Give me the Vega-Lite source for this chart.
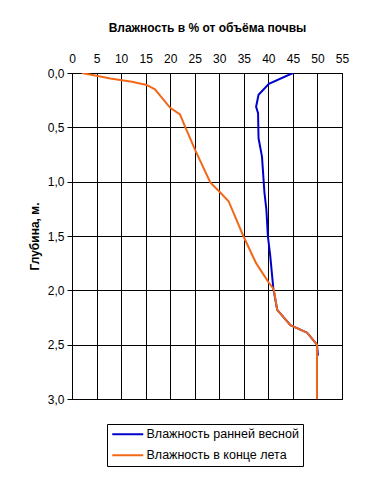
{
  "$schema": "https://vega.github.io/schema/vega-lite/v6.json",
  "width": 270,
  "height": 326,
  "autosize": {"type": "none"},
  "padding": {"left": 72, "top": 73, "right": 26, "bottom": 79},
  "background": "white",
  "config": {
    "font": "Liberation Sans",
    "view": {"stroke": "black", "strokeWidth": 1},
    "axis": {"labelFont": "Liberation Sans", "labelFontSize": 12, "labelColor": "black", "titleFont": "Liberation Sans", "titleFontSize": 12, "titleFontWeight": "bold", "titleColor": "black", "gridColor": "black", "gridOpacity": 1, "gridWidth": 1, "domainColor": "black", "tickColor": "black"}
  },
  "data": {
    "values": [
      {"series": "Влажность ранней весной", "o": 1, "depth": 0.0, "w": 45.0},
      {"series": "Влажность ранней весной", "o": 2, "depth": 0.1, "w": 40.1},
      {"series": "Влажность ранней весной", "o": 3, "depth": 0.2, "w": 38.0},
      {"series": "Влажность ранней весной", "o": 4, "depth": 0.31, "w": 37.5},
      {"series": "Влажность ранней весной", "o": 5, "depth": 0.37, "w": 37.9},
      {"series": "Влажность ранней весной", "o": 6, "depth": 0.6, "w": 38.0},
      {"series": "Влажность ранней весной", "o": 7, "depth": 0.77, "w": 38.7},
      {"series": "Влажность ранней весной", "o": 8, "depth": 1.1, "w": 39.2},
      {"series": "Влажность ранней весной", "o": 9, "depth": 1.26, "w": 39.6},
      {"series": "Влажность ранней весной", "o": 10, "depth": 1.5, "w": 39.9},
      {"series": "Влажность ранней весной", "o": 11, "depth": 1.69, "w": 40.4},
      {"series": "Влажность ранней весной", "o": 12, "depth": 1.98, "w": 41.0},
      {"series": "Влажность ранней весной", "o": 13, "depth": 2.18, "w": 41.8},
      {"series": "Влажность ранней весной", "o": 14, "depth": 2.32, "w": 44.5},
      {"series": "Влажность ранней весной", "o": 15, "depth": 2.39, "w": 47.9},
      {"series": "Влажность ранней весной", "o": 16, "depth": 2.5, "w": 49.9},
      {"series": "Влажность ранней весной", "o": 17, "depth": 2.6, "w": 50.1},
      {"series": "Влажность в конце лета", "o": 1, "depth": 0.0, "w": 2.0},
      {"series": "Влажность в конце лета", "o": 2, "depth": 0.025, "w": 5.0},
      {"series": "Влажность в конце лета", "o": 3, "depth": 0.05, "w": 7.8},
      {"series": "Влажность в конце лета", "o": 4, "depth": 0.08, "w": 12.2},
      {"series": "Влажность в конце лета", "o": 5, "depth": 0.11, "w": 15.2},
      {"series": "Влажность в конце лета", "o": 6, "depth": 0.15, "w": 16.9},
      {"series": "Влажность в конце лета", "o": 7, "depth": 0.32, "w": 20.0},
      {"series": "Влажность в конце лета", "o": 8, "depth": 0.38, "w": 22.0},
      {"series": "Влажность в конце лета", "o": 9, "depth": 0.48, "w": 22.9},
      {"series": "Влажность в конце лета", "o": 10, "depth": 0.71, "w": 25.1},
      {"series": "Влажность в конце лета", "o": 11, "depth": 1.01, "w": 28.2},
      {"series": "Влажность в конце лета", "o": 12, "depth": 1.1, "w": 30.2},
      {"series": "Влажность в конце лета", "o": 13, "depth": 1.18, "w": 31.9},
      {"series": "Влажность в конце лета", "o": 14, "depth": 1.5, "w": 34.9},
      {"series": "Влажность в конце лета", "o": 15, "depth": 1.75, "w": 37.5},
      {"series": "Влажность в конце лета", "o": 16, "depth": 1.93, "w": 40.1},
      {"series": "Влажность в конце лета", "o": 17, "depth": 1.99, "w": 41.1},
      {"series": "Влажность в конце лета", "o": 18, "depth": 2.18, "w": 41.8},
      {"series": "Влажность в конце лета", "o": 19, "depth": 2.32, "w": 44.5},
      {"series": "Влажность в конце лета", "o": 20, "depth": 2.39, "w": 47.9},
      {"series": "Влажность в конце лета", "o": 21, "depth": 2.5, "w": 49.9},
      {"series": "Влажность в конце лета", "o": 22, "depth": 3.0, "w": 49.9}
    ]
  },
  "mark": {"type": "line", "strokeWidth": 2, "clip": true},
  "encoding": {
    "x": {
      "field": "w", "type": "quantitative",
      "scale": {"domain": [0, 55], "nice": false, "zero": false},
      "axis": {"orient": "top", "values": [0,5,10,15,20,25,30,35,40,45,50,55], "ticks": false, "labelPadding": 8, "title": "Влажность в % от объёма почвы", "titlePadding": 18, "grid": true, "domain": false, "labelFlush": false}
    },
    "y": {
      "field": "depth", "type": "quantitative",
      "scale": {"domain": [0, 3], "reverse": true, "nice": false, "zero": false},
      "axis": {"values": [0, 0.5, 1, 1.5, 2, 2.5, 3], "labelExpr": "replace(format(datum.value, '.1f'), '.', ',')", "tickSize": 5, "labelPadding": 3, "title": "Глубина, м.", "titlePadding": 6, "grid": true, "domain": true, "labelFlush": false}
    },
    "order": {"field": "o", "type": "quantitative"},
    "color": {
      "field": "series", "type": "nominal",
      "scale": {"domain": ["Влажность ранней весной", "Влажность в конце лета"], "range": ["#0000CC", "#F06818"]},
      "legend": {"orient": "none", "legendX": 35, "legendY": 351, "title": null, "symbolType": "M-1,0H5.2", "symbolSize": 100, "symbolStrokeWidth": 2, "labelFontSize": 12.5, "labelColor": "black", "labelFont": "Liberation Sans", "strokeColor": "black", "fillColor": "white", "padding": 4, "rowPadding": 8, "labelOffset": 23}
    }
  }
}
